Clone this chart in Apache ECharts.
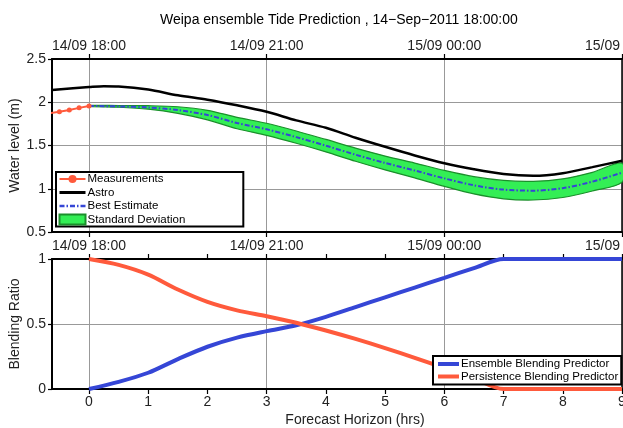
<!DOCTYPE html>
<html><head><meta charset="utf-8">
<script src="https://cdn.jsdelivr.net/npm/echarts@6/dist/echarts.min.js"></script>
<style>html,body{margin:0;padding:0;background:#fff}#c{width:623px;height:428px}</style>
</head><body><div id="c"></div>
<script>
// ---- data (hours relative to 14/09 18:00) ----
const measHours = [-0.667, -0.5, -0.333, -0.167, 0];
const measValues = [1.872, 1.89, 1.91, 1.935, 1.957];

const astroHours = [-0.625, 0, 0.25, 0.5, 1, 1.5, 2, 2.5, 3, 3.5, 4, 4.5, 5, 5.5, 6, 6.5, 7, 7.5, 8, 8.5, 9];
const astroValues = [2.142, 2.175, 2.186, 2.183, 2.148, 2.08, 2.03, 1.965, 1.89, 1.79, 1.705, 1.59, 1.485, 1.385, 1.295, 1.225, 1.17, 1.15, 1.18, 1.25, 1.324];

const fcHours = [0, 0.5, 1, 1.5, 2, 2.5, 3, 3.5, 4, 4.5, 5, 5.5, 6, 6.5, 7, 7.5, 8, 8.5, 9];
const bestValues = [1.957, 1.952, 1.94, 1.91, 1.852, 1.76, 1.687, 1.597, 1.498, 1.394, 1.298, 1.211, 1.12, 1.04, 0.99, 0.978, 1.007, 1.082, 1.186];
const sdLower = [1.951, 1.942, 1.92, 1.872, 1.797, 1.694, 1.617, 1.526, 1.426, 1.318, 1.218, 1.125, 1.028, 0.94, 0.884, 0.87, 0.899, 0.974, 1.076];
const sdUpper = [1.963, 1.962, 1.96, 1.948, 1.907, 1.826, 1.757, 1.668, 1.57, 1.47, 1.378, 1.297, 1.212, 1.14, 1.096, 1.086, 1.115, 1.19, 1.296];

const ensembleValues = [0, 0.055, 0.125, 0.23, 0.325, 0.395, 0.445, 0.49, 0.555, 0.63, 0.705, 0.78, 0.855, 0.93, 1, 1, 1, 1, 1];
const persistValues = [1, 0.955, 0.88, 0.765, 0.67, 0.605, 0.56, 0.51, 0.45, 0.385, 0.315, 0.24, 0.16, 0.08, 0, 0, 0, 0, 0];

const dateTicks = [0, 3, 6, 9];
const dateLabels = ['14/09 18:00', '14/09 21:00', '15/09 00:00', '15/09 03:00'];
const hourTicks = [0, 1, 2, 3, 4, 5, 6, 7, 8, 9];
const waterTicks = ['0.5', '1', '1.5', '2', '2.5'];

// ---- helpers ----
const pair = (xs, ys) => xs.map((x, i) => [x, ys[i]]);
const FONT = 'Liberation Sans, Arial, sans-serif';
const TXT = '#222';
const RED = '#ff5a3c', BLUE = '#3546d6', GREEN = '#33ee55', DKGREEN = '#1b8f2b';
const grid0 = { left: 52, top: 59, width: 570, height: 173, outerBoundsMode: 'none', containLabel: false };
const grid1 = { left: 52, top: 259, width: 570, height: 130, outerBoundsMode: 'none', containLabel: false };

function xAx(grid, pos, ticks, labels, opts) {
  return Object.assign({
    type: 'value', gridIndex: grid, position: pos, min: -0.625, max: 9,
    axisLine: { show: true, onZero: false, lineStyle: { color: '#000', width: 2 } },
    axisTick: { show: true, inside: false, length: 5, customValues: ticks, lineStyle: { color: '#000', width: 1.2 } },
    axisLabel: labels ? { show: true, customValues: labels.vals, formatter: labels.fmt, margin: 6, fontSize: 14, color: TXT, fontFamily: FONT } : { show: false },
    splitLine: { show: false }
  }, opts || {});
}
function yAx(grid, pos, min, max, opts) {
  return Object.assign({
    type: 'value', gridIndex: grid, position: pos, min: min, max: max, interval: 0.5,
    axisLine: { show: true, onZero: false, lineStyle: { color: '#000', width: 2 } },
    axisTick: { show: true, length: 4, lineStyle: { color: '#000', width: 1.2 } },
    axisLabel: { margin: 6, fontSize: 14, color: TXT, fontFamily: FONT },
    splitLine: { show: true, lineStyle: { color: '#999', width: 1 } }
  }, opts || {});
}

const dateFmt = v => { const i = dateTicks.indexOf(Math.round(v)); return i >= 0 ? dateLabels[i] : ''; };
const hideSym = { opacity: 0 };

const option = {
  animation: false,
  backgroundColor: '#fff',
  title: {
    text: 'Weipa ensemble Tide Prediction , 14\u2212Sep\u22122011 18:00:00',
    left: 155, top: 8,
    textStyle: { fontSize: 14, fontWeight: 'normal', color: '#000', fontFamily: FONT }
  },
  grid: [grid0, grid1],
  xAxis: [
    xAx(0, 'top', dateTicks, { vals: dateTicks, fmt: dateFmt },
      { splitLine: { show: true, lineStyle: { color: '#999', width: 1 } } }),
    xAx(0, 'bottom', dateTicks, null),
    xAx(1, 'top', hourTicks, { vals: dateTicks, fmt: dateFmt }),
    xAx(1, 'bottom', hourTicks, { vals: hourTicks, fmt: v => String(Math.round(v)) }, {
      name: 'Forecast Horizon (hrs)', nameLocation: 'middle', nameGap: 24, nameMoveOverlap: false,
      nameTextStyle: { fontSize: 14, color: TXT, fontFamily: FONT, padding: [0, 0, 0, 36] }
    }),
    xAx(1, 'bottom', dateTicks, null, {
      axisLine: { show: false }, axisTick: { show: false, customValues: dateTicks },
      splitLine: { show: true, lineStyle: { color: '#999', width: 1 } }
    })
  ],
  yAxis: [
    yAx(0, 'left', 0.5, 2.5, {
      axisLabel: { margin: 6, fontSize: 14, color: TXT, fontFamily: FONT, formatter: v => waterTicks[Math.round((v - 0.5) / 0.5)] },
      name: 'Water level (m)', nameLocation: 'middle', nameGap: 30, nameMoveOverlap: false,
      nameTextStyle: { fontSize: 14, color: TXT, fontFamily: FONT }
    }),
    yAx(0, 'right', 0.5, 2.5, {
      axisLine: { show: true, onZero: false, lineStyle: { color: '#000', width: 1.5 } },
      axisTick: { show: false }, axisLabel: { show: false }, splitLine: { show: false }
    }),
    yAx(1, 'left', 0, 1, {
      name: 'Blending Ratio', nameLocation: 'middle', nameGap: 30, nameMoveOverlap: false,
      nameTextStyle: { fontSize: 14, color: TXT, fontFamily: FONT }
    }),
    yAx(1, 'right', 0, 1, {
      axisLine: { show: true, onZero: false, lineStyle: { color: '#000', width: 1.5 } },
      axisTick: { show: false }, axisLabel: { show: false }, splitLine: { show: false }
    })
  ],
  legend: [
    {
      orient: 'vertical', left: 56, top: 172, itemGap: 1.5, itemWidth: 26, itemHeight: 10,
      padding: [1, 58, 1, 2], borderColor: '#000', borderWidth: 2, backgroundColor: '#fff',
      selectedMode: false,
      textStyle: { fontSize: 11.5, color: '#000', fontFamily: FONT, padding: [0, 0, 0, -3] },
      data: [
        { name: 'Measurements', lineStyle: { width: 2 } },
        { name: 'Astro', itemStyle: hideSym, lineStyle: { width: 3 } },
        { name: 'Best Estimate', itemStyle: hideSym, lineStyle: { width: 2.5 } },
        { name: 'Standard Deviation', icon: 'rect', itemStyle: { color: GREEN, borderColor: DKGREEN, borderWidth: 2 } }
      ]
    },
    {
      orient: 'vertical', left: 433, top: 356, itemGap: 0.5, itemWidth: 21, itemHeight: 10,
      padding: [2, 3, 2, 3], borderColor: '#000', borderWidth: 2, backgroundColor: '#fff',
      selectedMode: false,
      textStyle: { fontSize: 11.5, color: '#000', fontFamily: FONT, padding: [0, 0, 0, -3] },
      data: [
        { name: 'Ensemble Blending Predictor', itemStyle: hideSym, lineStyle: { width: 4 } },
        { name: 'Persistence Blending Predictor', itemStyle: hideSym, lineStyle: { width: 4 } }
      ]
    }
  ],
  series: [
    {
      name: 'Standard Deviation', type: 'custom', xAxisIndex: 0, yAxisIndex: 0, z: 2,
      data: [[fcHours[0], bestValues[0]]],
      encode: { x: 0, y: 1 },
      itemStyle: { color: GREEN },
      renderItem: function (params, api) {
        const pts = [];
        for (let i = 0; i < fcHours.length; i++) pts.push(api.coord([fcHours[i], sdUpper[i]]));
        for (let i = fcHours.length - 1; i >= 0; i--) pts.push(api.coord([fcHours[i], sdLower[i]]));
        return {
          type: 'polygon',
          shape: { points: pts, smooth: 0.3 },
          style: { fill: GREEN, stroke: DKGREEN, lineWidth: 1.2 }
        };
      }
    },
    {
      name: 'Astro', type: 'line', xAxisIndex: 0, yAxisIndex: 0, z: 4,
      data: pair(astroHours, astroValues), symbol: 'none', smooth: 0.3,
      lineStyle: { color: '#000', width: 2.5 }, itemStyle: { color: '#000' }
    },
    {
      name: 'Best Estimate', type: 'line', xAxisIndex: 0, yAxisIndex: 0, z: 5,
      data: pair(fcHours, bestValues), symbol: 'none', smooth: 0.3,
      lineStyle: { color: BLUE, width: 2, type: [5, 2, 1.5, 2] }, itemStyle: { color: BLUE }
    },
    {
      name: 'Measurements', type: 'line', xAxisIndex: 0, yAxisIndex: 0, z: 6, clip: true,
      data: pair(measHours, measValues), symbol: 'circle', symbolSize: 5, showSymbol: true,
      lineStyle: { color: RED, width: 2 }, itemStyle: { color: RED }
    },
    {
      name: 'Ensemble Blending Predictor', type: 'line', xAxisIndex: 3, yAxisIndex: 2,
      data: pair(fcHours, ensembleValues), symbol: 'none', smooth: 0.3,
      lineStyle: { color: BLUE, width: 4 }, itemStyle: { color: BLUE }
    },
    {
      name: 'Persistence Blending Predictor', type: 'line', xAxisIndex: 3, yAxisIndex: 2,
      data: pair(fcHours, persistValues), symbol: 'none', smooth: 0.3,
      lineStyle: { color: RED, width: 4 }, itemStyle: { color: RED }
    }
  ]
};

const chart = echarts.init(document.getElementById('c'), null, { renderer: 'canvas' });
chart.setOption(option);
</script>
</body></html>
